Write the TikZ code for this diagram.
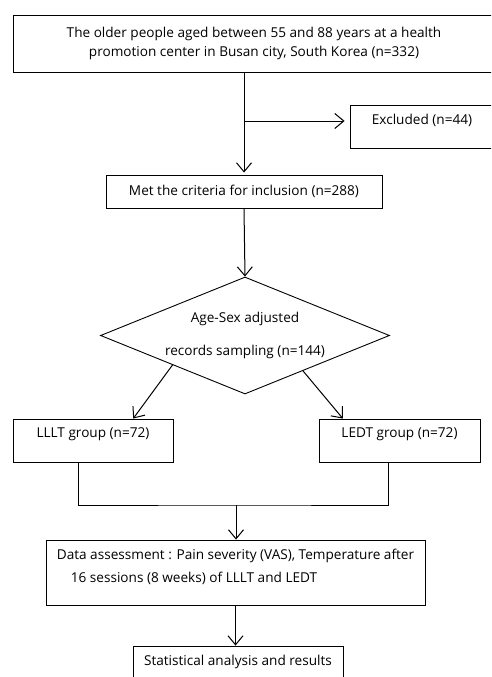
\documentclass[tikz,border=0pt]{standalone}
\usepackage{fontspec}
\setmainfont{Open Sans}
\usetikzlibrary{shapes.geometric,arrows.meta,calc}

\begin{document}
\begin{tikzpicture}[x=1pt, y=-1pt, >={Straight Barb[length=9pt,width=15pt]},
    font=\fontsize{13.6}{19}\selectfont,
    box/.style={draw, line width=0.9pt, inner sep=0pt},
    lift/.style={yshift=6pt},
    link/.style={line width=1pt}]
    \useasboundingbox (0,0) rectangle (491,677);
    \clip (0,0) rectangle (491,677);

    % boxes
    \node[box, minimum width=481, minimum height=57, align=center] (top) at (254,43.5)
        {The older people aged between 55 and 88 years at a health\\promotion center in Busan city, South Korea (n=332)};
    \node[box, minimum width=144, minimum height=43, label={[lift]center:Excluded (n=44)}] (excl) at (422,126.5) {};
    \node[box, minimum width=276, minimum height=33] (met) at (244,191.5) {Met the criteria for inclusion (n=288)};
    \node[draw, diamond, shape aspect=2.47, inner sep=0pt, minimum width=289, minimum height=117,
        line width=0.9pt, align=center] (samp) at (245,335.5)
        {Age-Sex adjusted\\[14pt]records sampling (n=144)};
    \node[box, minimum width=160, minimum height=43, label={[lift]center:LLLT group (n=72)}] (lllt) at (93,440.5) {};
    \node[box, minimum width=161, minimum height=43, label={[lift]center:LEDT group (n=72)}] (ledt) at (399.5,440.5) {};
    \node[box, minimum width=379, minimum height=65,
        label={[lift, align=left]center:{Data assessment : Pain severity (VAS), Temperature after\\[4pt]\hspace*{14pt}16 sessions (8 weeks) of LLLT and LEDT}}] (data) at (235.5,572.5) {};
    \node[box, minimum width=210, minimum height=43, label={[lift]center:Statistical analysis and results}] (stat) at (238,667.5) {};

    % connectors
    \coordinate (split) at (245,121);
    \coordinate (mrg) at (236,505);
    \draw[link, ->, shorten >=2pt] (top.south -| met.north) -- (met.north);
    \draw[link, ->, shorten >=5pt] (split) -- (split -| excl.west);
    \draw[link, ->] (met.south) -- (samp.north);
    \draw[link, ->] (samp.south west) -- ($(lllt.north west)!0.75!(lllt.north east)$);
    \draw[link, ->] ($(samp.south east)!0.2!(samp.south)$) -- ($(ledt.north west)!0.15!(ledt.north east)$);
    \draw[link] ($(lllt.south west)!0.41!(lllt.south east)$) |- (mrg) -| ($(ledt.south west)!0.43!(ledt.south east)$);
    \draw[link, ->] (mrg) -- (mrg |- data.north);
    \draw[link, ->] (data.south) -- (data.south |- stat.north);
\end{tikzpicture}
\end{document}
